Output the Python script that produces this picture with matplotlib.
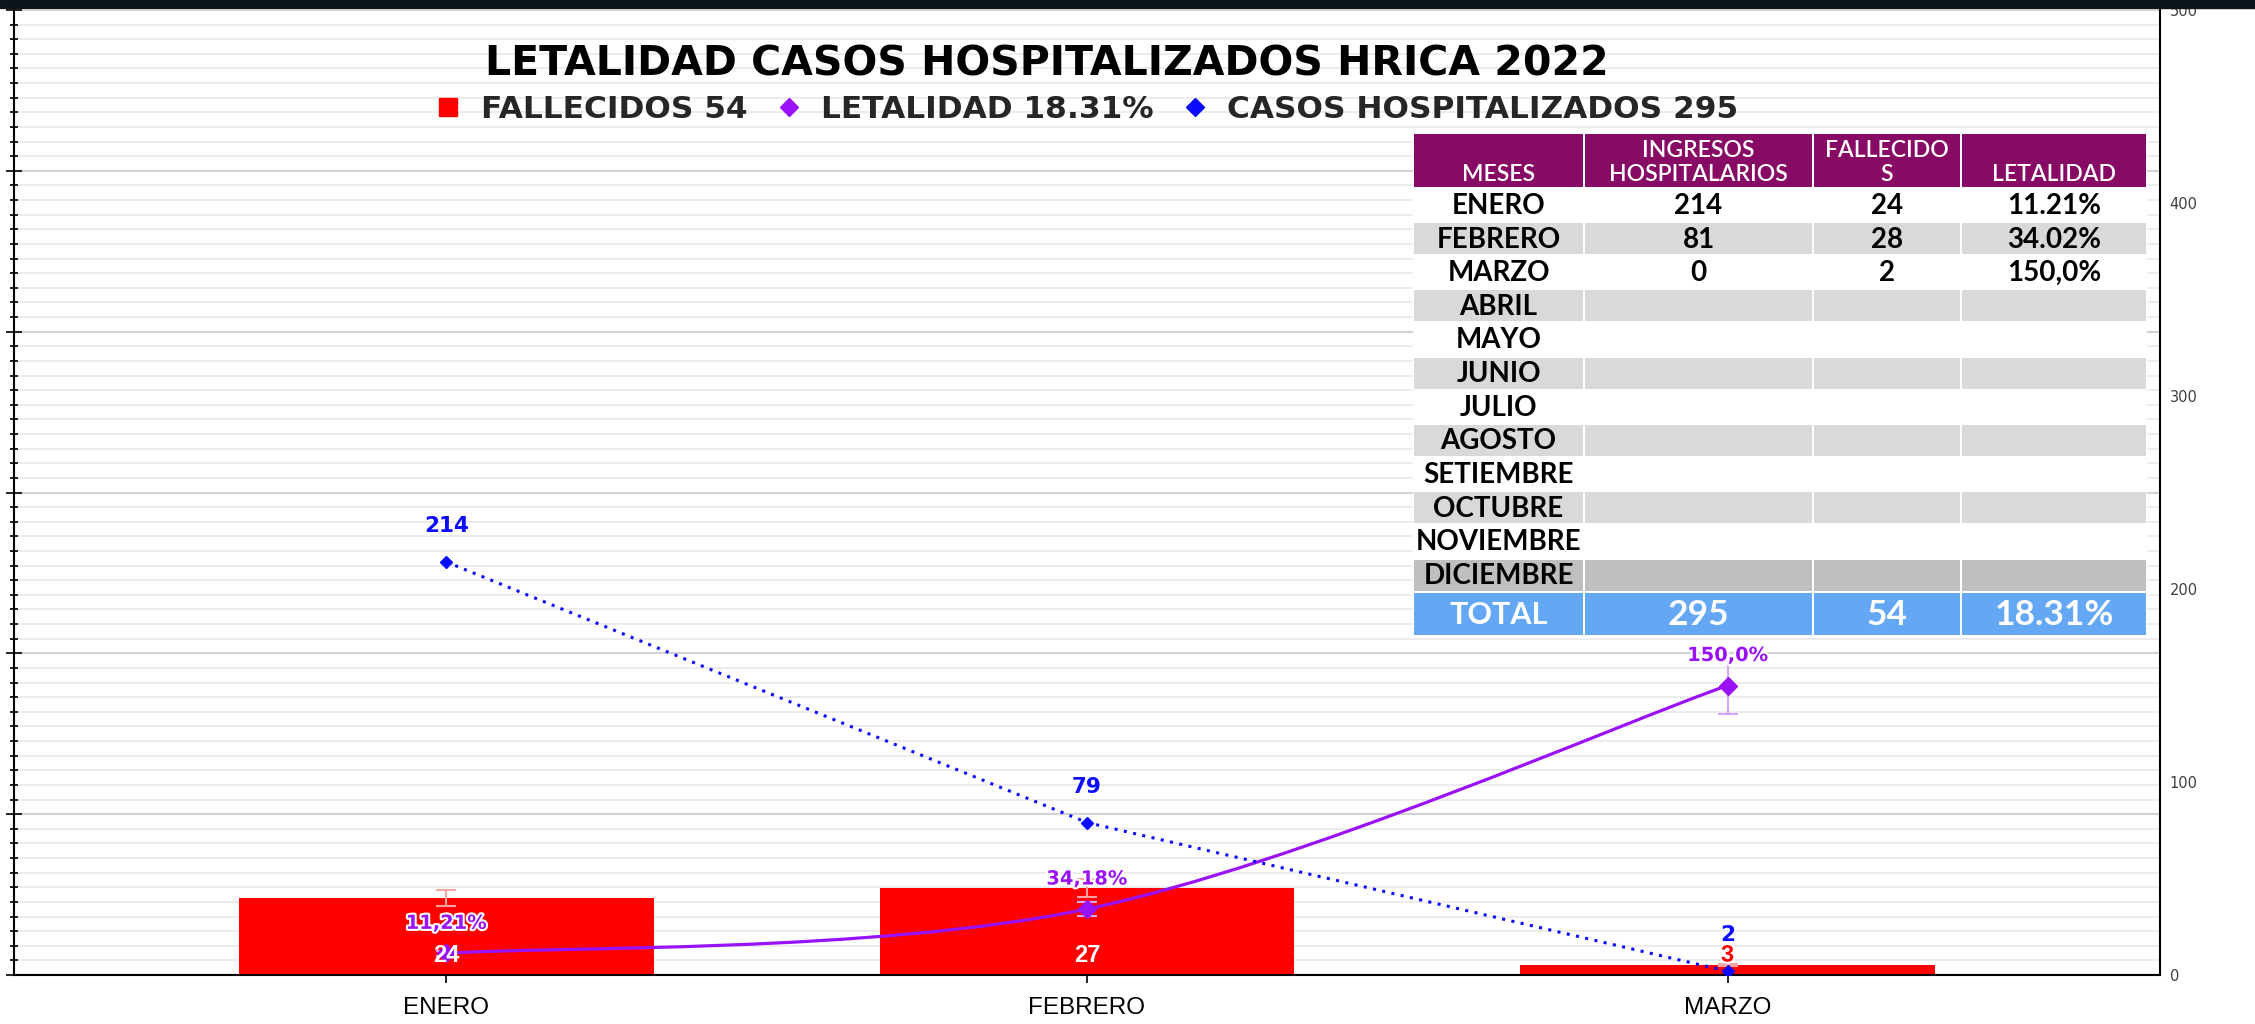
import numpy as np
import matplotlib
matplotlib.use('Agg')
import matplotlib.pyplot as plt
from matplotlib.path import Path
from matplotlib.patches import PathPatch, Rectangle
from matplotlib.lines import Line2D
from matplotlib.ticker import FixedLocator, NullFormatter
import matplotlib.patheffects as pe

# ── datos del grafico ──
meses = ["ENERO", "FEBRERO", "MARZO"]
fallecidos = [24, 27, 3]
casos_hosp = [214, 79, 2]
letalidad = [11.21, 34.18, 150.0]
letalidad_txt = ["11,21%", "34,18%", "150,0%"]

titulo = "LETALIDAD CASOS HOSPITALIZADOS HRICA 2022"
legend_labels = ["FALLECIDOS 54", "LETALIDAD 18.31%", "CASOS HOSPITALIZADOS 295"]

# ── datos de la tabla ──
tabla_header = ["MESES", "INGRESOS\nHOSPITALARIOS", "FALLECIDO\nS", "LETALIDAD"]
tabla_meses = ["ENERO", "FEBRERO", "MARZO", "ABRIL", "MAYO", "JUNIO", "JULIO",
               "AGOSTO", "SETIEMBRE", "OCTUBRE", "NOVIEMBRE", "DICIEMBRE"]
tabla_ingresos = ["214", "81", "0"]
tabla_fallecidos = ["24", "28", "2"]
tabla_letalidad = ["11.21%", "34.02%", "150,0%"]
tabla_total = ["TOTAL", "295", "54", "18.31%"]

RED = "#FF0000"
PURPLE = "#9A12F7"
BLUE = "#0B0BFF"
ERR_PCT = 0.10  # barras de error porcentuales (estilo Excel)

W, H = 2255, 1024
fig = plt.figure(figsize=(W / 100, H / 100), dpi=100)
plt.rcParams['font.family'] = ['Liberation Sans', 'DejaVu Sans']

# franja oscura superior
fig.patches.append(Rectangle((0, 1 - 8 / H), 1, 8 / H, transform=fig.transFigure,
                             color="#0C1519", zorder=10))

# ── eje izquierdo: barras ──
ax = fig.add_axes([14 / W, 49 / H, (2160 - 14) / W, (975 - 10) / H])
x = np.arange(len(meses))
ax.bar(x, fallecidos, width=0.647, color=RED, zorder=2)
ax.errorbar(x, fallecidos, yerr=np.array(fallecidos) * ERR_PCT, fmt='none',
            ecolor="#F7A3A3", elinewidth=1.5, capsize=7, capthick=1.5, zorder=3)
ax.set_xlim(-0.675, 2.675)
ax.set_ylim(0, 300)
ax.yaxis.set_major_locator(FixedLocator(np.arange(0, 301, 50)))
ax.yaxis.set_minor_locator(FixedLocator(np.linspace(0, 300, 67)))
ax.yaxis.set_major_formatter(NullFormatter())
ax.tick_params(axis='y', which='major', direction='inout', length=12, width=1.2)
ax.tick_params(axis='y', which='minor', direction='inout', length=6, width=1.2)
ax.grid(axis='y', which='minor', color="#EAEAEA", lw=1.3)
ax.grid(axis='y', which='major', color="#D3D3D3", lw=1.5)
ax.set_axisbelow(True)
ax.set_xticks(x, meses)
ax.tick_params(axis='x', direction='inout', length=11.5, width=1.2, pad=10,
               labelsize=17.5, labelcolor='black')
for s in ["top", "right"]:
    ax.spines[s].set_visible(False)
for s in ["left", "bottom"]:
    ax.spines[s].set_linewidth(1.5)
    ax.spines[s].set_color('black')

# ── eje derecho: lineas ──
ax2 = ax.twinx()
ax2.set_ylim(0, 500)
ax2.set_yticks(np.arange(0, 501, 100))
ax2.tick_params(axis='y', length=0, pad=7, labelsize=10.5, labelcolor="#404040")
for lab in ax2.get_yticklabels():
    lab.set_family('DejaVu Sans')
for s in ["top", "left", "bottom"]:
    ax2.spines[s].set_visible(False)
ax2.spines["right"].set_linewidth(1.5)
ax2.spines["right"].set_color('black')


def smooth_path(xs, ys):
    # curva suavizada tipo Excel (Bezier Catmull-Rom)
    pts = np.column_stack([xs, ys]).astype(float)
    verts = [pts[0]]
    codes = [Path.MOVETO]
    n = len(pts)
    for i in range(n - 1):
        p0 = pts[max(i - 1, 0)]
        p1 = pts[i]
        p2 = pts[i + 1]
        p3 = pts[min(i + 2, n - 1)]
        verts += [p1 + (p2 - p0) / 6, p2 - (p3 - p1) / 6, p2]
        codes += [Path.CURVE4] * 3
    return Path(verts, codes)


ax2.add_patch(PathPatch(smooth_path(x, letalidad), fill=False, edgecolor=PURPLE,
                        lw=2.3, zorder=3))
ax2.errorbar(x, letalidad, yerr=np.array(letalidad) * ERR_PCT, fmt='none',
             ecolor="#D3A6F7", elinewidth=1.5, capsize=7, capthick=1.5, zorder=3)
ax2.plot(x, letalidad, ls='none', marker='D', ms=9, color=PURPLE, zorder=4)
ax2.plot(x, casos_hosp, color=BLUE, lw=2.2, ls=(0, (1, 2.1)), marker='D', ms=6.5,
         zorder=4)

# etiquetas de datos
outline = [pe.withStroke(linewidth=3, foreground='white')]
for xi, v in zip(x, fallecidos):
    big = v > 10
    ax2.annotate(str(v), (xi, 0), xytext=(0, 20), textcoords='offset pixels',
                 ha='center', va='center', fontsize=17, fontweight='bold',
                 color='white' if big else RED,
                 path_effects=None if big else outline, zorder=6)
for xi, v, t in zip(x, letalidad, letalidad_txt):
    ax2.annotate(t, (xi, v), xytext=(0, 30), textcoords='offset pixels',
                 ha='center', va='center', fontsize=14, fontweight='bold',
                 family='DejaVu Sans', color=PURPLE, path_effects=outline, zorder=6)
for xi, v in zip(x, casos_hosp):
    ax2.annotate(str(v), (xi, v), xytext=(0, 36), textcoords='offset pixels',
                 ha='center', va='center', fontsize=15.5, fontweight='bold',
                 family='DejaVu Sans', color=BLUE, zorder=6)

# ── titulo y leyenda ──
fig.text(1047 / W, 1 - 75 / H, titulo, ha='center', va='baseline',
         fontsize=29.5, fontweight='bold', family='DejaVu Sans', color='black')
handles = [
    Line2D([], [], ls='none', marker='s', ms=13, color=RED),
    Line2D([], [], ls='none', marker='D', ms=9, color=PURPLE),
    Line2D([], [], ls='none', marker='D', ms=9, color=BLUE),
]
leg = fig.legend(handles, legend_labels, loc='center', ncol=3,
                 bbox_to_anchor=(1088 / W, 1 - 109 / H), frameon=False,
                 prop={'family': 'DejaVu Sans', 'weight': 'bold', 'size': 22.5},
                 handlelength=0.7, handletextpad=0.7, columnspacing=0.95,
                 borderpad=0, labelcolor="#262626")

# ── tabla ──
tx0, tx1, ty0, ty1 = 1413, 2147, 133, 636
tax = fig.add_axes([tx0 / W, 1 - ty1 / H, (tx1 - tx0) / W, (ty1 - ty0) / H])
tax.set_xlim(0, tx1 - tx0)
tax.set_ylim(ty1 - ty0, 0)
tax.axis('off')
tax.add_patch(Rectangle((0, 0), tx1 - tx0, ty1 - ty0, color='white', zorder=0))

col_w = [171, 229, 148, 186]
col_x = np.concatenate([[0], np.cumsum(col_w)])
header_h, row_h, total_h = 55, 404 / 12, 44
gap = 1.3

TFONT = 'Lato'


def cell(c, y, h, color):
    tax.add_patch(Rectangle((col_x[c] + gap, y + gap), col_w[c] - 2 * gap, h - 2 * gap,
                            color=color, lw=0, zorder=1))


for c in range(4):
    cell(c, 0, header_h, "#870B64")
    tax.text((col_x[c] + col_x[c + 1]) / 2, header_h - 3, tabla_header[c],
             ha='center', va='bottom', color='white', fontsize=16.5,
             fontweight='semibold', family=TFONT, linespacing=1.2, zorder=2)

for r, mes in enumerate(tabla_meses):
    y = header_h + r * row_h
    if r == len(tabla_meses) - 1:
        color = "#BFBFBF"
    elif r % 2 == 1:
        color = "#D9D9D9"
    else:
        color = "white"
    for c in range(4):
        cell(c, y, row_h, color)
    vals = [mes]
    if r < len(tabla_ingresos):
        vals += [tabla_ingresos[r], tabla_fallecidos[r], tabla_letalidad[r]]
    for c, t in enumerate(vals):
        tax.text((col_x[c] + col_x[c + 1]) / 2, y + row_h / 2 + 1, t, ha='center',
                 va='center', fontsize=20, fontweight='bold', family=TFONT,
                 color='black', zorder=2)

y = header_h + 12 * row_h
for c in range(4):
    cell(c, y, total_h, "#64A7F5")
    tax.text((col_x[c] + col_x[c + 1]) / 2, y + total_h / 2 + 1, tabla_total[c],
             ha='center', va='center', fontsize=22 if c == 0 else 25.5,
             fontweight='bold', family=TFONT, color='white', zorder=2)

fig.savefig("out.png", dpi=100)
